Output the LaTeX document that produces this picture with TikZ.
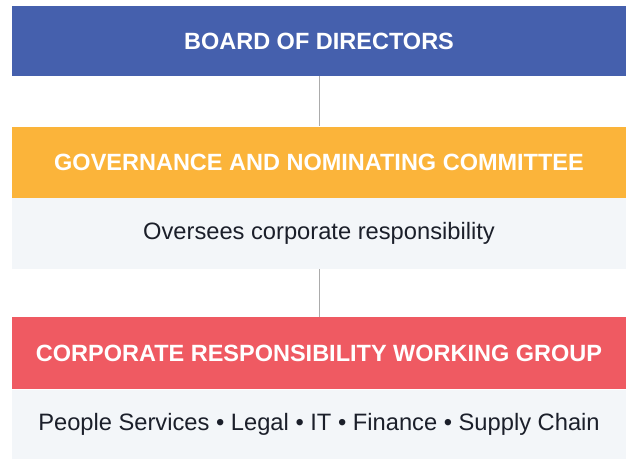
\documentclass[tikz,border=0pt]{standalone}
\usepackage{fontspec}
\setmainfont{Liberation Sans}
\usepackage{xcolor}
\usetikzlibrary{positioning}

\definecolor{boardblue}{HTML}{4560AD}
\definecolor{gncyellow}{HTML}{FBB43A}
\definecolor{crwgred}{HTML}{EF5A62}
\definecolor{descgrey}{HTML}{F3F6F9}
\definecolor{textdark}{HTML}{1B1F2A}
\definecolor{linegrey}{HTML}{ABABAB}

\begin{document}
\begin{tikzpicture}[x=1pt, y=1pt, node distance=0pt,
		head/.style={rectangle, inner sep=0pt, minimum width=614pt, minimum height=71pt, text=white, font=\fontsize{23.5}{27}\selectfont\bfseries},
		desc/.style={rectangle, inner sep=0pt, minimum width=614pt, minimum height=71pt, fill=descgrey, text=textdark, font=\fontsize{23.7}{27}\selectfont},
		link/.style={draw=linegrey, line width=1pt}]
		\useasboundingbox (0,0) rectangle (632,-458);

		% Nodes
		\node (board) [head, fill=boardblue, minimum height=70pt, anchor=north] at (319,-6) {BOARD OF DIRECTORS};
		\node (gnc) [head, fill=gncyellow, below=50pt of board] {GOVERNANCE AND NOMINATING COMMITTEE};
		\node (gncdesc) [desc, below=of gnc] {Oversees corporate responsibility};
		\node (crwg) [head, fill=crwgred, below=48pt of gncdesc, minimum height=72pt] {CORPORATE RESPONSIBILITY WORKING GROUP};
		\node (crwgdesc) [desc, below=of crwg, minimum height=69pt] {People Services • Legal • IT • Finance • Supply Chain};

		% Lines
		\draw[link] (board.south) -- (gnc.north);
		\draw[link] (gncdesc.south) -- (crwg.north);

	\end{tikzpicture}
\end{document}
